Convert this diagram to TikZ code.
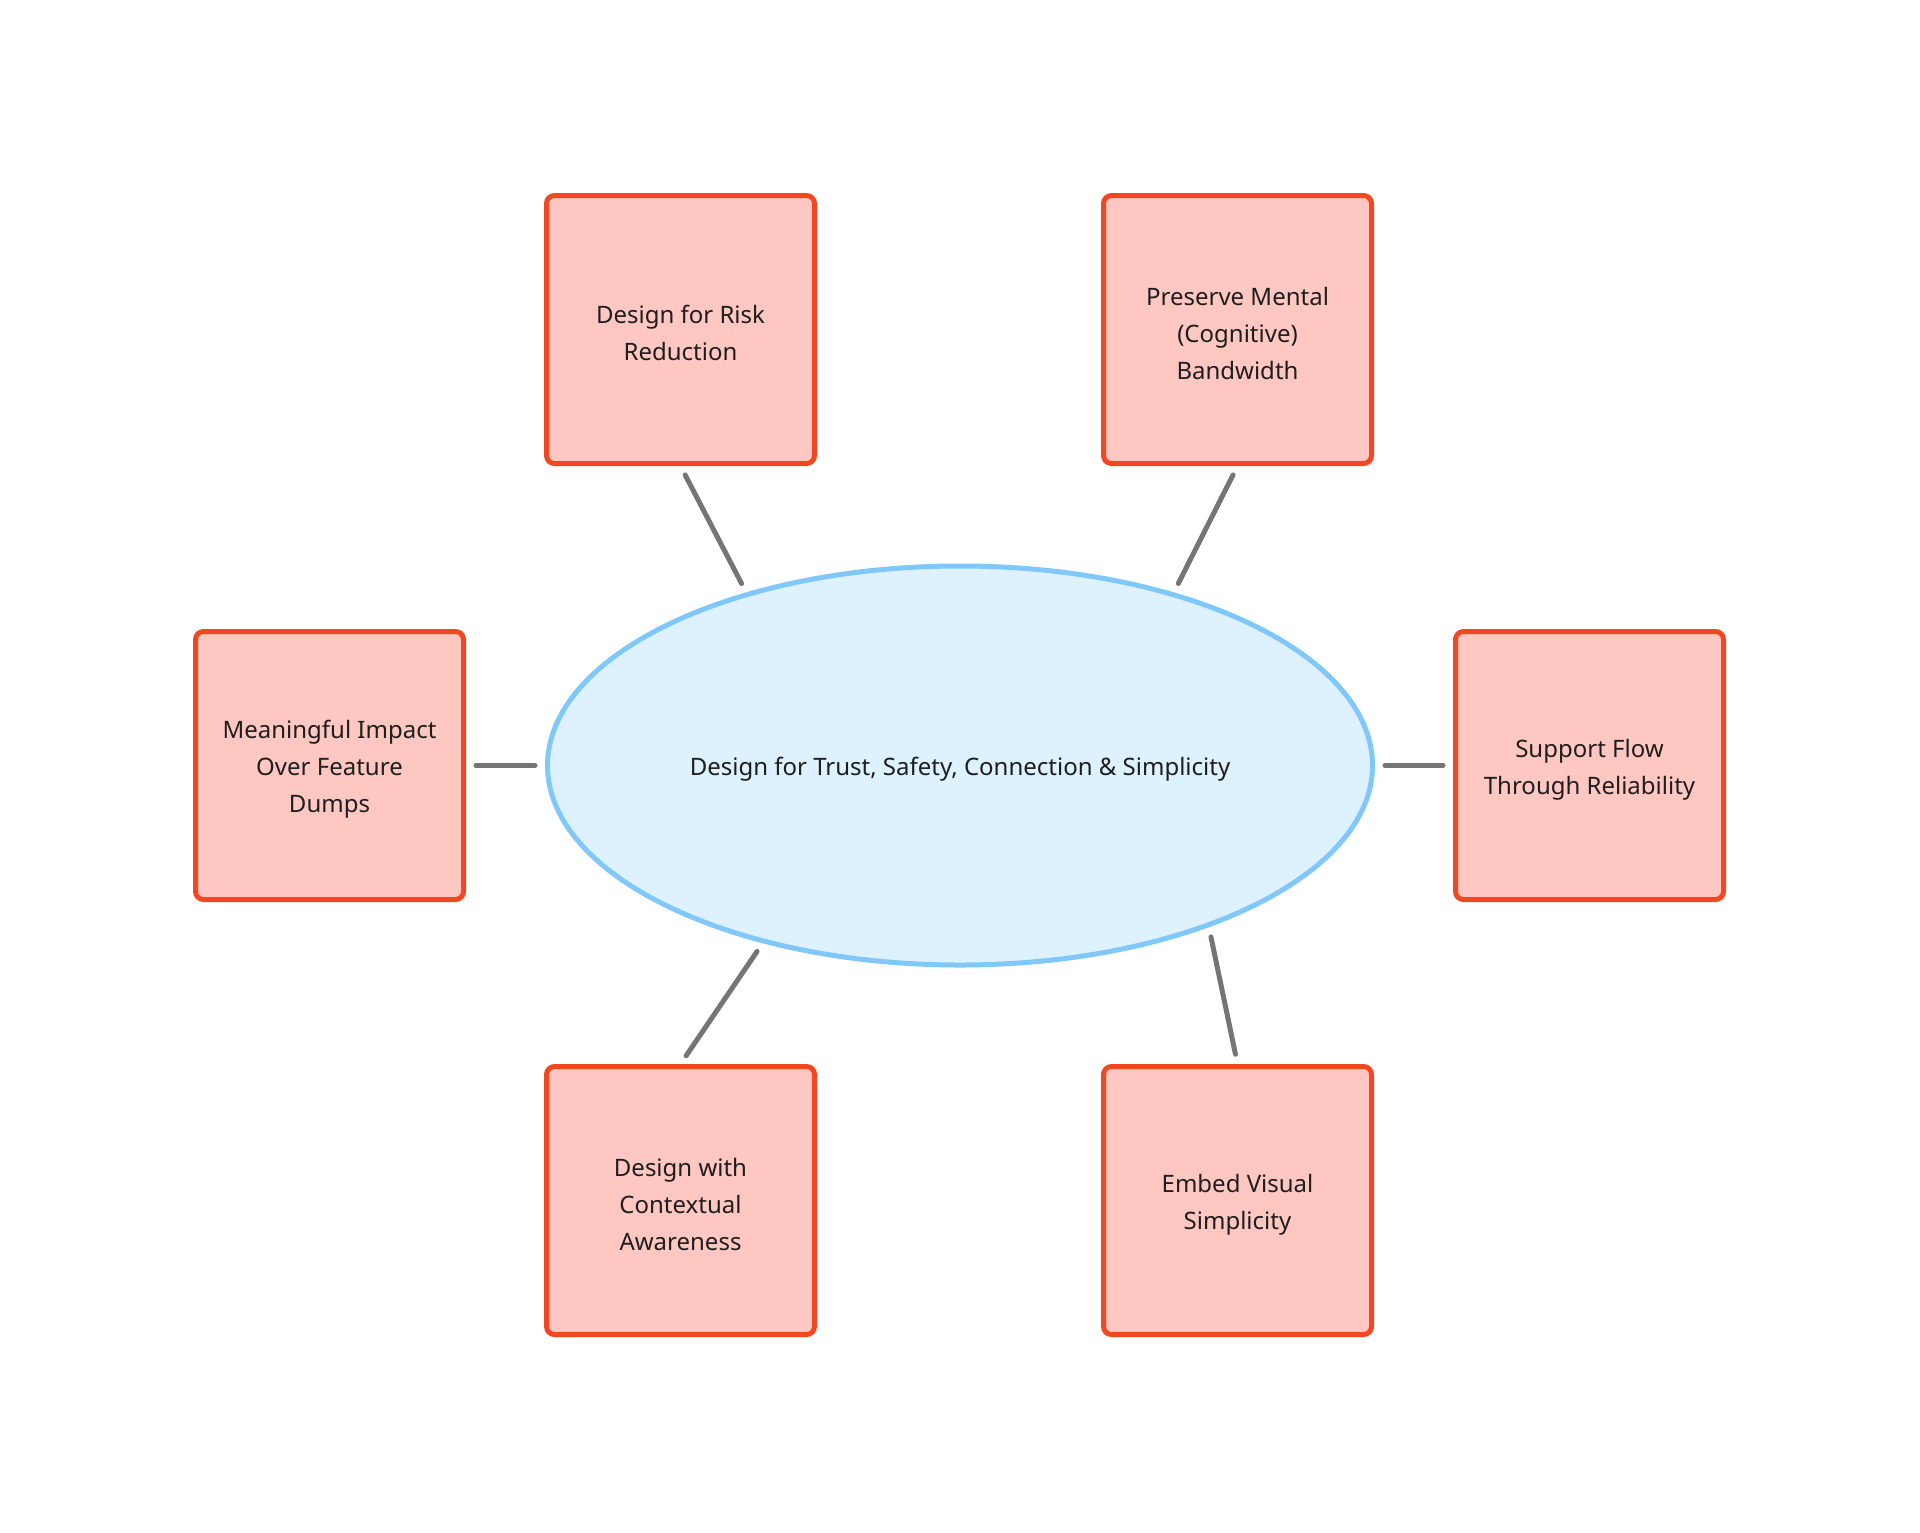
\documentclass[tikz,border=0pt]{standalone}
\usepackage{fontspec}
\setmainfont{Noto Sans}
\usepackage{tikz}
\usetikzlibrary{shapes}

\definecolor{boxfill}{HTML}{FFC7C2}
\definecolor{boxline}{HTML}{F24822}
\definecolor{hubfill}{HTML}{DDF1FE}
\definecolor{hubline}{HTML}{80C8FA}
\definecolor{linkgray}{HTML}{757575}
\definecolor{textgray}{HTML}{1E1E1E}

% extra room above the first line
\newcommand{\topgap}{\rule{0pt}{12.9pt}}

\begin{document}
\begin{tikzpicture}[x=0.5pt, y=-0.5pt,
	idea/.style={draw=boxline, fill=boxfill, line width=2.5pt, rounded corners=4pt, minimum width=134pt, minimum height=134pt, align=center, text=textgray, font=\fontsize{12}{18.5}\selectfont},
	core/.style={ellipse, draw=hubline, fill=hubfill, line width=2.5pt, minimum width=412.5pt, minimum height=199.5pt, inner sep=0pt, text=textgray, font=\fontsize{12}{18.5}\selectfont},
	link/.style={draw=linkgray, line width=2.5pt, line cap=round, shorten <=5pt, shorten >=5pt}]
		\useasboundingbox (0,0) rectangle (1920,1532);
		% centre
		\node[core] (hub) at (960,765.5) {\topgap Design for Trust, Safety, Connection \& Simplicity};
		% top row
		\node[idea] (risk) at (680.5,329.5) {\topgap Design for Risk\\Reduction};
		\node[idea] (mental) at (1237.5,329.5) {\topgap Preserve Mental\\(Cognitive)\\Bandwidth};
		% middle row
		\node[idea] (impact) at (329.5,765.5) {\topgap Meaningful Impact\\Over Feature\\Dumps};
		\node[idea] (flow) at (1589.5,765.5) {\topgap Support Flow\\Through Reliability};
		% bottom row
		\node[idea] (context) at (680.5,1200.5) {\topgap Design with\\Contextual\\Awareness};
		\node[idea] (visual) at (1237.5,1200.5) {\topgap Embed Visual\\Simplicity};
		% connectors
		\draw[link] (risk.south) -- (hub.141);
		\draw[link] (mental.south) -- (hub.39);
		\draw[link] (impact.east) -- (hub.west);
		\draw[link] (flow.west) -- (hub.east);
		\draw[link] (context.north) -- (hub.222);
		\draw[link] (visual.north) -- (hub.327);
	\end{tikzpicture}
\end{document}
